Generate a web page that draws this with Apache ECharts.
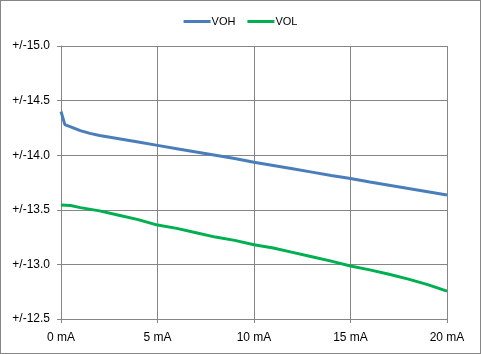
<!DOCTYPE html>
<html>
<head>
<meta charset="utf-8">
<script src="https://cdn.jsdelivr.net/npm/echarts@6/dist/echarts.min.js"></script>
<style>
html, body { margin: 0; padding: 0; background: #fff; }
#chart { width: 479px; height: 352px; border: 1px solid #868686; }
</style>
</head>
<body>
<div id="chart"></div>
<script>
// current in mA
const vohCurrent = [0, 0.2, 0.5, 1, 1.5, 2, 3, 4, 5, 6, 7, 8, 9, 10, 11, 12, 13, 14, 15, 16, 17, 18, 19, 20]
const vohValues = [14.40, 14.28, 14.26, 14.225, 14.20, 14.18, 14.15, 14.12, 14.09, 14.06, 14.03, 14.00, 13.97, 13.935,
  13.905, 13.875, 13.845, 13.815, 13.786, 13.755, 13.725, 13.695, 13.665, 13.635]
const volCurrent = [0, 0.5, 1, 2, 3, 4, 5, 6, 7, 8, 9, 10, 11, 12, 13, 14, 15, 16, 17, 18, 19, 20]
const volValues = [13.545, 13.54, 13.52, 13.49, 13.45, 13.41, 13.36, 13.33, 13.29, 13.25, 13.22, 13.18,
  13.15, 13.11, 13.07, 13.03, 12.985, 12.95, 12.91, 12.865, 12.815, 12.755]
const seriesNames = ['VOH', 'VOL']

const chart = echarts.init(document.getElementById('chart'))
const gridColor = '#868686'
const font = 'Liberation Sans'

chart.setOption({
  animation: false,
  legend: {
    top: 10,
    left: 'center',
    itemWidth: 27,
    itemHeight: 3,
    itemGap: 12,
    icon: 'rect',
    textStyle: { fontFamily: font, fontSize: 11, color: '#000', padding: [0, 0, 0, -4] },
    data: seriesNames,
  },
  grid: { left: 60, right: 33, top: 45, bottom: 34 },
  xAxis: {
    type: 'value',
    min: 0,
    max: 20,
    interval: 5,
    axisLine: { show: true, lineStyle: { color: gridColor } },
    axisTick: { show: true, length: 4, lineStyle: { color: gridColor } },
    splitLine: { show: true, lineStyle: { color: gridColor } },
    axisLabel: {
      fontFamily: font, fontSize: 12, color: '#000', margin: 13,
      formatter: (v) => v + ' mA',
    },
  },
  yAxis: {
    type: 'value',
    min: 12.5,
    max: 15,
    interval: 0.5,
    axisLine: { show: true, lineStyle: { color: gridColor } },
    axisTick: { show: true, length: 4, lineStyle: { color: gridColor } },
    splitLine: { show: true, lineStyle: { color: gridColor } },
    axisLabel: {
      fontFamily: font, fontSize: 12, color: '#000', margin: 11,
      formatter: (v) => '+/-' + v.toFixed(1),
    },
  },
  series: [
    {
      name: 'VOH',
      type: 'line',
      data: vohCurrent.map((x, i) => [x, vohValues[i]]),
      showSymbol: false,
      lineStyle: { color: '#4a7ebb', width: 3 },
      itemStyle: { color: '#4a7ebb' },
    },
    {
      name: 'VOL',
      type: 'line',
      data: volCurrent.map((x, i) => [x, volValues[i]]),
      showSymbol: false,
      lineStyle: { color: '#00b050', width: 3 },
      itemStyle: { color: '#00b050' },
    },
  ],
})
</script>
</body>
</html>
